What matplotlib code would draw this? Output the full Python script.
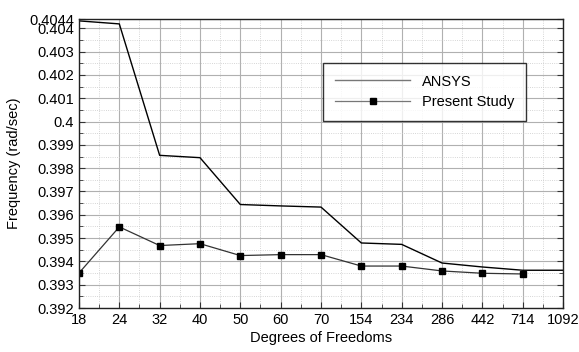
import matplotlib.pyplot as plt
from matplotlib.ticker import MultipleLocator, FixedLocator
import numpy as np

plt.rcParams['font.family'] = ['Liberation Sans', 'DejaVu Sans']

# datos
dof = ['18', '24', '32', '40', '50', '60', '70', '154', '234', '286', '442', '714', '1092']
ansys = [0.40432, 0.40419, 0.39855, 0.39845, 0.39644, 0.39638, 0.39633,
         0.39479, 0.39473, 0.39393, 0.39376, 0.39362, 0.39362]
present = [0.39350, 0.39548, 0.39468, 0.39476, 0.39425, 0.39429, 0.39429,
           0.39380, 0.39380, 0.39359, 0.39349, 0.39346]
yticks = [0.392, 0.393, 0.394, 0.395, 0.396, 0.397, 0.398, 0.399, 0.400,
          0.401, 0.402, 0.403, 0.404, 0.4044]
ytick_labels = ['0.392', '0.393', '0.394', '0.395', '0.396', '0.397', '0.398',
                '0.399', '0.4', '0.401', '0.402', '0.403', '0.404', '0.4044']

fig = plt.figure(figsize=(5.79, 3.52), dpi=100)
ax = fig.add_axes([0.1364, 0.125, 0.836, 0.821])

x = np.arange(len(dof))
ax.plot(x, ansys, color='black', lw=1.0, label='ANSYS')
ax.plot(x[:len(present)], present, color='#333333', lw=0.9, marker='s',
        markersize=5, markerfacecolor='black', markeredgecolor='black',
        label='Present Study')

ax.set_xlim(0, len(dof) - 1)
ax.set_ylim(0.392, 0.4044)
ax.set_xticks(x)
ax.set_xticklabels(dof)
ax.xaxis.set_minor_locator(FixedLocator(x[:-1] + 0.5))
ax.yaxis.set_major_locator(FixedLocator(yticks))
ax.set_yticklabels(ytick_labels)
ax.yaxis.set_minor_locator(MultipleLocator(0.0005))

ax.grid(which='major', color='#b0b0b0', lw=0.8)
ax.grid(which='minor', color='#c8c8c8', lw=0.6, ls=':')
ax.set_axisbelow(True)

ax.tick_params(which='both', direction='in', right=True, top=False,
               labelsize=10.5, length=4, color='#333333')
ax.tick_params(which='minor', length=3)
for s in ax.spines.values():
    s.set_color('#222222')
    s.set_linewidth(1.0)

ax.set_xlabel('Degrees of Freedoms', fontsize=10.5, labelpad=3)
ax.set_ylabel('Frequency (rad/sec)', fontsize=10.5, labelpad=6)

leg = ax.legend(loc='upper left', bbox_to_anchor=(0.504, 0.848), frameon=True,
                fancybox=False, edgecolor='black', fontsize=10.5,
                handlelength=5.2, borderpad=0.8, labelspacing=0.45,
                borderaxespad=0, handletextpad=0.8)
leg.get_frame().set_linewidth(1.0)
for line in leg.get_lines():
    line.set_color('#777777')
    line.set_markerfacecolor('black')
    line.set_markeredgecolor('black')

fig.savefig('out.png', dpi=100)
